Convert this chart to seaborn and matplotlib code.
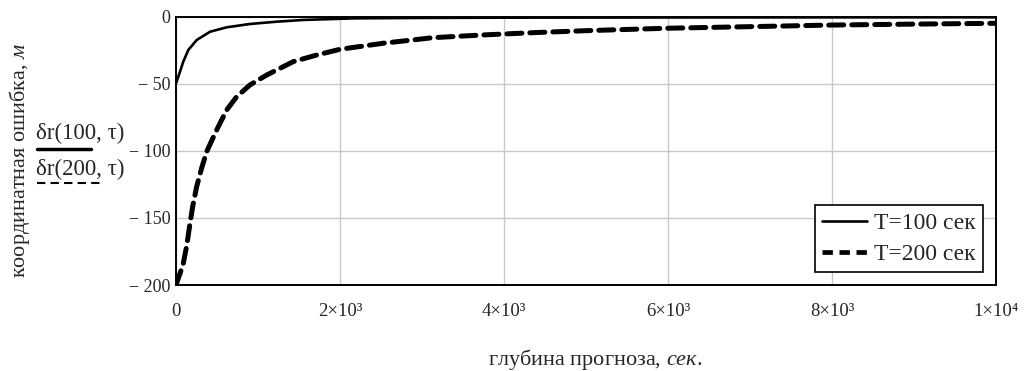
import numpy as np
import pandas as pd
import matplotlib
matplotlib.use("Agg")
import matplotlib.pyplot as plt
import seaborn as sns
from matplotlib.lines import Line2D

# data
tau_100 = [0, 49, 89, 150, 252, 415, 618, 902, 1228, 1553, 2183, 3000, 4000, 6000, 8000, 10000]
err_100 = [-49.5, -40.8, -33.3, -24.6, -17.2, -11.0, -7.7, -5.2, -3.5, -2.2, -1.0, -0.7, -0.5, -0.35, -0.25, -0.2]
tau_200 = [0, 85, 130, 171, 203, 252, 313, 374, 496, 618, 740, 902, 1106, 1430, 1715, 2000,
           2525, 3137, 3745, 4350, 5000, 5984, 7000, 8013, 9000, 10000]
err_200 = [-200, -185, -171, -154, -141.6, -126.6, -112.7, -100.5, -84.3, -69.4, -59.5, -50.7, -43.3,
           -33.3, -28.4, -24.1, -19.6, -15.4, -13.4, -11.7, -10.2, -8.4, -7.2, -6.0, -5.3, -4.7]
series_labels = ["T=100 сек", "T=200 сек"]
x_ticks = [0, 2000, 4000, 6000, 8000, 10000]
x_tick_labels = ["0", "2×10³", "4×10³", "6×10³", "8×10³", "1×10⁴"]
y_ticks = [0, -50, -100, -150, -200]
y_tick_labels = ["0", "− 50", "− 100", "− 150", "− 200"]

df = pd.concat([
    pd.DataFrame({"tau": tau_100, "err": err_100, "series": series_labels[0]}),
    pd.DataFrame({"tau": tau_200, "err": err_200, "series": series_labels[1]}),
])

sns.set_theme(style="whitegrid")
plt.rcParams['font.family'] = ['Liberation Serif', 'DejaVu Serif']
plt.rcParams['mathtext.fontset'] = 'custom'
plt.rcParams['mathtext.rm'] = 'Liberation Serif'
plt.rcParams['mathtext.it'] = 'Liberation Serif:italic'

fig = plt.figure(figsize=(10.25, 3.71), dpi=100)
ax = fig.add_axes([176/1025, 1-285/371, 820/1025, 268/371])

sns.lineplot(data=df, x="tau", y="err", hue="series", style="series",
             palette=["black", "black"], dashes=[(None, None), (3, 1.6)],
             ax=ax, legend=False)
lines = ax.get_lines()
lines[0].set_linewidth(1.9)
lines[1].set_linewidth(3.6)
lines[1].set_dashes((3, 1.6))
lines[1].set_dash_capstyle("round")

ax.set_xlim(0, 10000)
ax.set_ylim(-200, 0)
ax.set_xticks(x_ticks)
ax.set_xticklabels(x_tick_labels, fontsize=13.5)
ax.set_yticks(y_ticks)
ax.set_yticklabels(y_tick_labels, fontsize=13)
ax.grid(True, color="#c8c8c8", linewidth=1.0)
for s in ax.spines.values():
    s.set_visible(True)
    s.set_color("black")
    s.set_linewidth(1.4)
ax.tick_params(axis="x", pad=13, length=0)
ax.tick_params(axis="y", pad=4, length=0)
ax.set_xlabel("")
ax.set_ylabel("")

handles = [Line2D([], [], color="black", lw=1.9),
           Line2D([], [], color="black", lw=3.4, dashes=(2.2, 1.4))]
leg = ax.legend(handles, series_labels, loc="lower right", fontsize=17,
                frameon=True, fancybox=False, framealpha=1, edgecolor="black",
                borderpad=0.3, handlelength=1.9, handletextpad=0.3,
                labelspacing=0.4, borderaxespad=0.55)
leg.get_frame().set_linewidth(1.2)

fig.text(20/1025, 1-160/371, "координатная ошибка, $\\mathit{м}$", rotation=90,
         ha="center", va="center", fontsize=16)
fig.text(595/1025, 1-360/371, "глубина прогноза, $\\mathit{сек.}$",
         ha="center", va="center", fontsize=16)

fig.text(36/1025, 1-133/371, "δr(100, τ)", ha="left", va="center", fontsize=16.5)
fig.add_artist(Line2D([37/1025, 91/1025], [1-149/371, 1-149/371], color="black", lw=2.5))
fig.text(36/1025, 1-169/371, "δr(200, τ)", ha="left", va="center", fontsize=16.5)
fig.add_artist(Line2D([37/1025, 101/1025], [1-183/371, 1-183/371], color="black", lw=1.5,
                      dashes=(4, 2.5)))

fig.savefig("out.png", dpi=100)
